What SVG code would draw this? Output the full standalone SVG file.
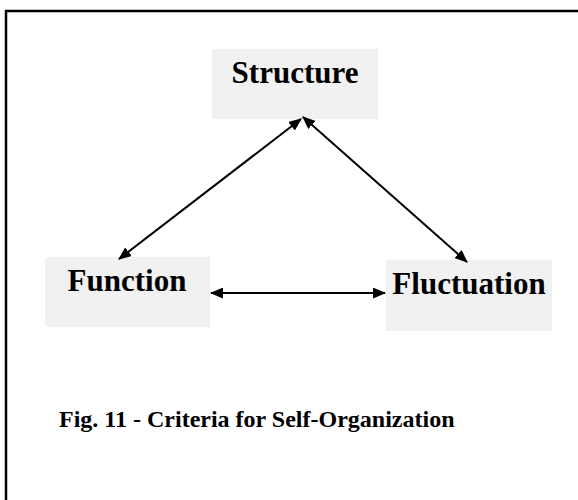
<svg xmlns="http://www.w3.org/2000/svg" width="578" height="500" viewBox="0 0 578 500">
  <style>
    .box { fill: #f1f1f1; stroke: none; }
    .label { font-family: "Liberation Serif", "Times New Roman", serif; font-weight: bold; fill: #000; }
    .node-label { font-size: 31px; text-anchor: middle; }
    .caption { font-size: 24px; }
    .link { stroke: #000; stroke-width: 2; fill: none; marker-start: url(#head); marker-end: url(#head); }
  </style>
  <defs>
    <marker id="head" viewBox="0 0 12 10" refX="11" refY="5" markerWidth="6.5" markerHeight="5.5" orient="auto-start-reverse" markerUnits="strokeWidth">
      <path d="M0,0 L12,5 L0,10 Z" fill="#000"/>
    </marker>
  </defs>

  <rect width="578" height="500" fill="#fff"/>
  <!-- frame: left and top edges only are visible -->
  <path d="M6,500 V11 H578" fill="none" stroke="#000" stroke-width="2.5"/>

  <g id="structure">
    <rect class="box" x="212" y="49" width="166" height="70"/>
    <text class="label node-label" x="295" y="83">Structure</text>
  </g>

  <g id="function">
    <rect class="box" x="45" y="257" width="165" height="70"/>
    <text class="label node-label" x="127" y="291">Function</text>
  </g>

  <g id="fluctuation">
    <rect class="box" x="386" y="260" width="166" height="71"/>
    <text class="label node-label" x="469" y="294">Fluctuation</text>
  </g>

  <g id="connectors">
    <line class="link" x1="301" y1="119" x2="119" y2="259"/>
    <line class="link" x1="303" y1="117" x2="467" y2="262"/>
    <line class="link" x1="211" y1="293" x2="385" y2="293"/>
  </g>

  <text class="label caption" x="59" y="427">Fig. 11 - Criteria for Self-Organization</text>
</svg>
